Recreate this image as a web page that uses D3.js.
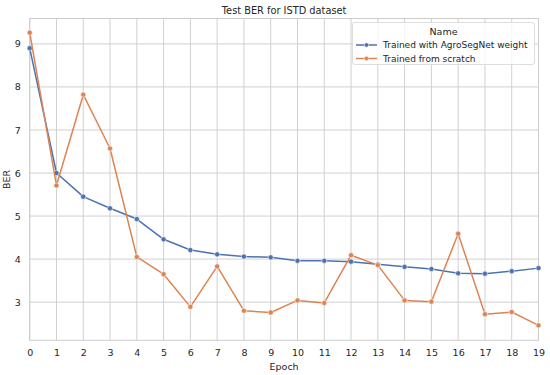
<!DOCTYPE html>
<html><head><meta charset="utf-8">
<script src="https://cdn.jsdelivr.net/npm/d3@7"></script>
<style>
body{margin:0;background:#fff;}
text{font-family:"DejaVu Sans",sans-serif;fill:#262626;}
</style></head>
<body><svg id="c" width="550" height="375"></svg>
<script>
const epochs = [0,1,2,3,4,5,6,7,8,9,10,11,12,13,14,15,16,17,18,19];
const agroSegNet = [8.90,6.00,5.45,5.18,4.93,4.46,4.21,4.11,4.06,4.04,3.96,3.96,3.94,3.88,3.82,3.77,3.67,3.66,3.72,3.79];
const scratch = [9.26,5.71,7.82,6.57,4.05,3.65,2.89,3.83,2.80,2.76,3.04,2.98,4.09,3.86,3.04,3.01,4.59,2.72,2.77,2.46];
const seriesNames = ["Trained with AgroSegNet weight","Trained from scratch"];
const colors = ["#4c72b0","#dd8452"];
const yTicks = [3,4,5,6,7,8,9];

const svg = d3.select("#c");
const L=29.7, R=538.5, T=18.5, B=340.3;
const x = d3.scaleLinear().domain([0,19]).range([L,R]);
const y = d3.scaleLinear().domain([2.113,9.59]).range([B,T]);

// grid
const g = svg.append("g");
g.selectAll(".vx").data(epochs).enter().append("line")
 .attr("x1",d=>x(d)).attr("x2",d=>x(d)).attr("y1",T).attr("y2",B)
 .attr("stroke","#d0d0d0").attr("stroke-width",1);
g.selectAll(".hy").data(yTicks).enter().append("line")
 .attr("x1",L).attr("x2",R).attr("y1",d=>y(d)).attr("y2",d=>y(d))
 .attr("stroke","#d0d0d0").attr("stroke-width",1);
// frame
svg.append("rect").attr("x",L).attr("y",T).attr("width",R-L).attr("height",B-T)
 .attr("fill","none").attr("stroke","#cccccc").attr("stroke-width",1);

// axes
const xAxis = d3.axisBottom(x).tickValues(epochs).tickSize(0).tickPadding(9).tickFormat(d3.format("d"));
const ax = svg.append("g").attr("transform",`translate(0,${B})`).call(xAxis);
ax.select(".domain").remove();
ax.selectAll("text").attr("font-size",9.5).attr("font-family","DejaVu Sans").attr("fill","#262626");
const yAxis = d3.axisLeft(y).tickValues(yTicks).tickSize(0).tickPadding(9).tickFormat(d3.format("d"));
const ay = svg.append("g").attr("transform",`translate(${L},0)`).call(yAxis);
ay.select(".domain").remove();
ay.selectAll("text").attr("font-size",9.5).attr("font-family","DejaVu Sans").attr("fill","#262626");

svg.append("text").attr("x",(L+R)/2).attr("y",370).attr("text-anchor","middle").attr("font-size",9.5).text("Epoch");
svg.append("text").attr("transform",`translate(10,${(T+B)/2}) rotate(-90)`).attr("text-anchor","middle").attr("font-size",9.5).text("BER");
svg.append("text").attr("x",(L+R)/2).attr("y",13.5).attr("text-anchor","middle").attr("font-size",9.8).text("Test BER for ISTD dataset");

// lines
const line = d3.line().x((d,i)=>x(epochs[i])).y(d=>y(d));
[agroSegNet,scratch].forEach((s,k)=>{
  svg.append("path").datum(s).attr("d",line).attr("fill","none")
    .attr("stroke",colors[k]).attr("stroke-width",1.5).attr("stroke-linejoin","round");
  svg.selectAll(".p"+k).data(s).enter().append("circle")
    .attr("cx",(d,i)=>x(epochs[i])).attr("cy",d=>y(d)).attr("r",2.6)
    .attr("fill",colors[k]).attr("stroke","#fff").attr("stroke-width",0.6);
});

// legend
const lg = svg.append("g");
lg.append("rect").attr("x",352.5).attr("y",22.5).attr("width",182).attr("height",42).attr("rx",2.5)
 .attr("fill","#fff").attr("fill-opacity",0.8).attr("stroke","#d6d6d6").attr("stroke-width",0.8);
lg.append("text").attr("x",443.5).attr("y",34.5).attr("text-anchor","middle").attr("font-size",9.5).text("Name");
seriesNames.forEach((n,k)=>{
  const yy = 45+k*13.5;
  lg.append("line").attr("x1",356).attr("x2",377).attr("y1",yy).attr("y2",yy).attr("stroke",colors[k]).attr("stroke-width",1.5);
  lg.append("circle").attr("cx",366.5).attr("cy",yy).attr("r",2.2).attr("fill",colors[k]).attr("stroke","#fff").attr("stroke-width",0.5);
  lg.append("text").attr("x",383).attr("y",yy+3.3).attr("font-size",9).text(n);
});
</script></body></html>
